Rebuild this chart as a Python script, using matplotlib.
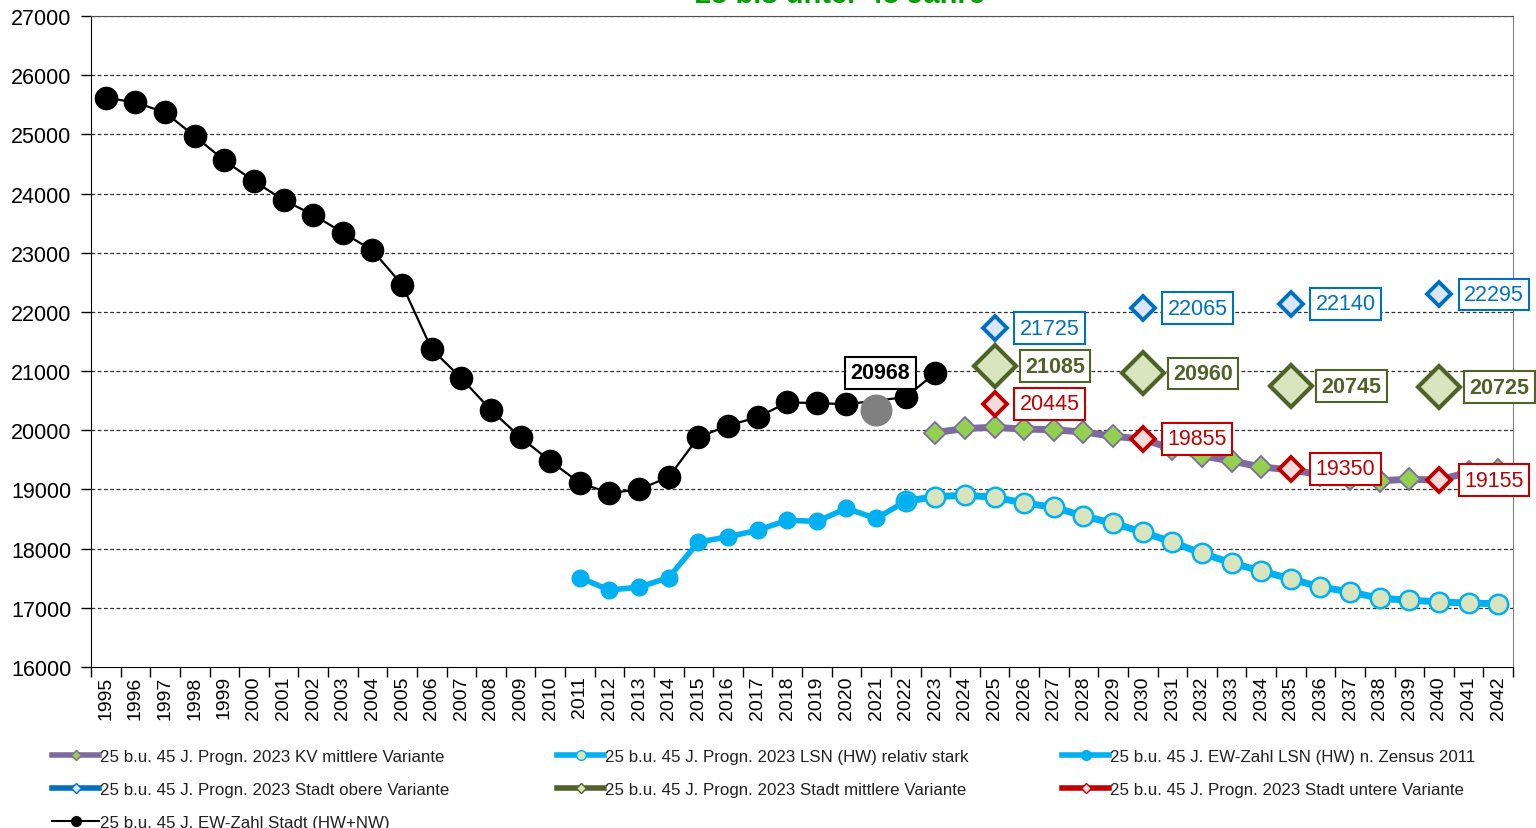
import numpy as np
import matplotlib.pyplot as plt
from matplotlib.lines import Line2D

plt.rcParams['font.family'] = ['Liberation Sans', 'DejaVu Sans']

# EW-Zahl Stadt (HW+NW) 1995-2023, 2021 shown separately in grey
stadt_years = list(range(1995, 2021)) + [2022, 2023]
stadt_vals = [25620, 25540, 25370, 24970, 24560, 24210, 23890, 23640, 23340, 23040,
              22460, 21370, 20880, 20340, 19880, 19480, 19110, 18940, 19000, 19210,
              19880, 20080, 20220, 20470, 20460, 20440, 20560, 20968]
grey_year = [2021]
grey_val = [20340]

# EW-Zahl LSN (HW) n. Zensus 2011
lsn_years = list(range(2011, 2023))
lsn_vals = [17510, 17300, 17350, 17510, 18110, 18200, 18310, 18480, 18460, 18680,
            18510, 18800]

# Progn. 2023 LSN (HW) relativ stark
lsnp_years = list(range(2022, 2043))
lsnp_vals = [18800, 18880, 18900, 18870, 18770, 18700, 18550, 18430, 18280, 18110,
             17920, 17760, 17620, 17490, 17350, 17270, 17160, 17130, 17100, 17080,
             17070]

# Progn. 2023 KV mittlere Variante
kv_years = list(range(2023, 2043))
kv_vals = [19960, 20030, 20050, 20020, 20010, 19970, 19900, 19850, 19690, 19570,
           19480, 19380, 19330, 19250, 19180, 19150, 19170, 19160, 19290, 19330]

# Progn. 2023 Stadt variants
var_years = [2025, 2030, 2035, 2040]
obere = [21725, 22065, 22140, 22295]
mittlere = [21085, 20960, 20745, 20725]
untere = [20445, 19855, 19350, 19155]

years = list(range(1995, 2043))

c_kv = '#7F6A9F'
c_kvm = '#92D050'
c_cyan = '#00B0F0'
c_lgreen = '#D7E4BD'
c_blue = '#0070C0'
c_bluef = '#DCE6F2'
c_green = '#4F6228'
c_red = '#C00000'
c_redf = '#F2DCDB'

fig = plt.figure(figsize=(15.36, 8.29), dpi=100)
ax = fig.add_axes([91 / 1536, 1 - 668 / 829, (1513 - 91) / 1536, (668 - 17) / 829])

# grid
for v in range(17000, 27001, 1000):
    ax.axhline(v, color='#303030', lw=0.9, ls=(0, (3, 2)), zorder=0)

# series
ax.plot(lsn_years, lsn_vals, color=c_cyan, lw=4, marker='o', ms=12,
        mfc=c_cyan, mec=c_cyan, zorder=3)
ax.plot(lsnp_years, lsnp_vals, color=c_cyan, lw=5, marker='o', ms=14,
        mfc=c_lgreen, mec=c_cyan, mew=1.8, zorder=3)
ax.plot(lsn_years[-1:], lsn_vals[-1:], ls='none', marker='o', ms=11,
        mfc=c_cyan, mec=c_cyan, zorder=4)
ax.plot(kv_years, kv_vals, color=c_kv, lw=5, marker='D', ms=11,
        mfc=c_kvm, mec=c_kv, mew=1.3, zorder=4)
ax.plot(stadt_years, stadt_vals, color='black', lw=1.6, marker='o', ms=16,
        mfc='black', mec='black', zorder=5)
ax.plot(grey_year, grey_val, ls='none', marker='o', ms=22, mfc='#808080',
        mec='#808080', zorder=5)
ax.plot(var_years, mittlere, ls='none', marker='D', ms=21, mfc=c_lgreen,
        mec=c_green, mew=3, zorder=6)
ax.plot(var_years, obere, ls='none', marker='D', ms=12, mfc=c_bluef,
        mec=c_blue, mew=2.8, zorder=6)
ax.plot(var_years, untere, ls='none', marker='D', ms=12, mfc=c_redf,
        mec=c_red, mew=2.8, zorder=6)

# data labels
def lab(x, y, txt, col, dx, bold=False, ha='left'):
    ax.annotate(txt, (x, y), xytext=(dx, 0), textcoords='offset points',
                ha=ha, va='center', fontsize=15.5, color=col,
                fontweight='bold' if bold else 'normal',
                bbox=dict(boxstyle='square,pad=0.25', fc='white', ec=col, lw=1.5),
                zorder=8)

for x, v in zip(var_years, obere):
    lab(x, v, str(v), c_blue, 18)
for x, v in zip(var_years, mittlere):
    lab(x, v, str(v), c_green, 22, bold=True)
for x, v in zip(var_years, untere):
    lab(x, v, str(v), c_red, 18)
lab(stadt_years[-1], stadt_vals[-1], str(stadt_vals[-1]), 'black', -18, bold=True,
    ha='right')

# axes
ax.set_xlim(1994.5, 2042.5)
ax.set_ylim(16000, 27000)
ax.set_yticks(range(16000, 27001, 1000))
ax.tick_params(axis='y', labelsize=15.5, length=7, width=1, pad=7)
ax.set_xticks(years)
ax.set_xticklabels([str(y) for y in years], rotation=90, fontsize=14)
ax.set_xticks(np.arange(1994.5, 2043, 1), minor=True)
ax.tick_params(axis='x', which='major', length=0, pad=6)
ax.tick_params(axis='x', which='minor', length=7, width=1)
for s in ['left', 'bottom']:
    ax.spines[s].set_color('black')
ax.spines['right'].set_color('#808080')
ax.spines['top'].set_color('#505050')

fig.text(0.547, 0.996, '25 bis unter 45 Jahre', color='#00A000', fontsize=21,
         fontweight='bold', ha='center', va='baseline')

# legend in three blocks
def h(color, lw, mfc, mec, marker='D', ms=5):
    return Line2D([0], [0], color=color, lw=lw, marker=marker, ms=ms, mfc=mfc, mec=mec)

blocks = [
    (52, [(h(c_kv, 4, c_kvm, c_kv), '25 b.u. 45 J. Progn. 2023 KV mittlere Variante'),
          (h(c_blue, 4, c_bluef, c_blue), '25 b.u. 45 J. Progn. 2023 Stadt obere Variante'),
          (h('black', 1.5, 'black', 'black', 'o', 7), '25 b.u. 45 J. EW-Zahl Stadt (HW+NW)')]),
    (557, [(h(c_cyan, 4, c_lgreen, c_cyan, 'o', 7), '25 b.u. 45 J. Progn. 2023 LSN (HW) relativ stark'),
           (h(c_green, 4, c_lgreen, c_green), '25 b.u. 45 J. Progn. 2023 Stadt mittlere Variante')]),
    (1062, [(h(c_cyan, 4, c_cyan, c_cyan, 'o', 7), '25 b.u. 45 J. EW-Zahl LSN (HW) n. Zensus 2011'),
            (h(c_red, 4, c_redf, c_red), '25 b.u. 45 J. Progn. 2023 Stadt untere Variante')]),
]
for x0, items in blocks:
    fig.legend([i[0] for i in items], [i[1] for i in items], loc='upper left',
               bbox_to_anchor=(x0 / 1536, 1 - 750 / 829), frameon=False,
               fontsize=12.2, handlelength=2.8, handletextpad=0.05,
               labelspacing=1.05, borderpad=0, borderaxespad=0,
               labelcolor='#202020')

fig.savefig('out.png', dpi=100)
